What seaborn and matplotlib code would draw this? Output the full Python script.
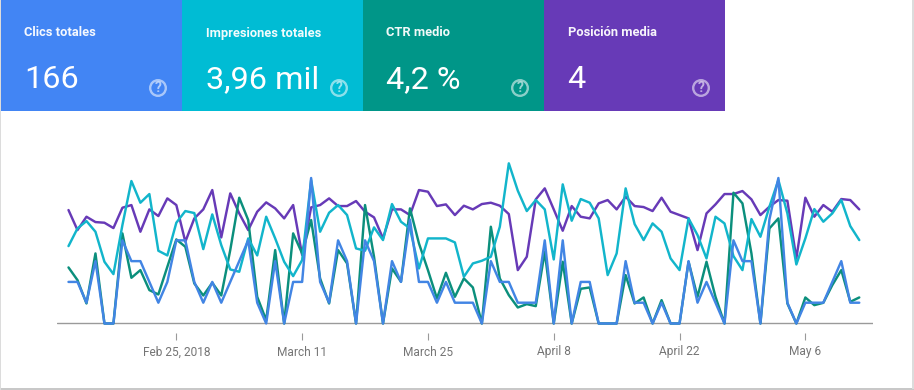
import pandas as pd
import seaborn as sns
import numpy as np
import matplotlib.pyplot as plt
from matplotlib.patches import Rectangle, Circle

start = '2018-02-13'
tick_dates = ['2018-02-25', '2018-03-11', '2018-03-25', '2018-04-08', '2018-04-22', '2018-05-06']
tick_labels = ['Feb 25, 2018', 'March 11', 'March 25', 'April 8', 'April 22', 'May 6']

card_titles = ['Clics totales', 'Impresiones totales', 'CTR medio', 'Posición media']
card_values = ['166', '3,96 mil', '4,2 %', '4']
card_colors = ['#4285F4', '#00BCD4', '#009688', '#673AB7']

clicks = [2, 2, 1, 3, 0, 0, 4, 3, 3, 2, 1, 2, 4, 4, 2, 1, 2, 1, 2, 3, 4, 1, 0, 3, 0, 2, 2, 7, 2, 1,
          4, 3, 0, 4, 3, 0, 3, 2, 5, 2, 2, 1, 2, 1, 1, 1, 0, 3, 2, 2, 1, 1, 1, 4, 0, 4, 0, 2, 2, 0,
          0, 0, 3, 1, 1, 0, 1, 0, 0, 3, 1, 2, 1, 0, 4, 3, 3, 0, 5, 7, 1, 0, 1, 1, 1, 2, 3, 1, 1]
impressions = [232, 285, 307, 275, 185, 148, 295, 427, 362, 388, 218, 204, 302, 337, 331, 223, 327, 235, 162, 155, 255, 204, 320, 255, 185, 142, 190, 430, 275, 332,
               355, 325, 225, 218, 288, 250, 358, 305, 285, 165, 255, 255, 255, 243, 140, 180, 188, 200, 290, 480, 398, 337, 370, 342, 192, 417, 308, 373, 362, 315,
               145, 210, 405, 298, 250, 300, 275, 195, 160, 315, 265, 195, 320, 300, 202, 160, 313, 260, 350, 430, 330, 177, 255, 343, 305, 330, 370, 292, 250]
ctr = [168, 130, 60, 210, 0, 0, 270, 137, 160, 100, 87, 170, 252, 230, 120, 84, 122, 84, 220, 377, 310, 80, 10, 220, 0, 270, 210, 310, 135, 60,
       220, 180, 0, 355, 200, 0, 165, 125, 345, 240, 160, 75, 152, 80, 135, 108, 0, 290, 135, 85, 48, 58, 52, 215, 0, 185, 0, 104, 108, 0,
       0, 0, 145, 60, 78, 0, 70, 0, 0, 185, 80, 185, 80, 0, 392, 360, 210, 0, 285, 315, 60, 0, 78, 55, 62, 115, 160, 65, 78]
position = [340, 280, 320, 304, 302, 286, 347, 355, 275, 342, 322, 375, 355, 245, 315, 342, 400, 258, 390, 330, 280, 335, 363, 345, 315, 355, 205, 348, 355, 375,
            352, 352, 367, 335, 318, 255, 342, 342, 325, 400, 395, 352, 357, 325, 353, 342, 358, 362, 353, 328, 160, 200, 372, 405, 342, 278, 352, 320, 315, 360,
            370, 342, 380, 352, 349, 337, 377, 335, 325, 315, 220, 330, 357, 388, 388, 397, 372, 325, 350, 370, 368, 195, 377, 320, 355, 335, 373, 370, 342]

sns.set_theme(style='white')
plt.rcParams['font.family'] = ['Roboto', 'DejaVu Sans']

W, H = 914, 390
fig = plt.figure(figsize=(W / 100, H / 100), dpi=100, facecolor='white')

# pixel overlay for the cards
bg = fig.add_axes([0, 0, 1, 1], zorder=0)
bg.set_xlim(0, W)
bg.set_ylim(H, 0)
bg.axis('off')
bg.add_patch(Rectangle((0, 388), W, 1.5, color='#c8c8c8', lw=0))
bg.add_patch(Rectangle((912, 0), 1.5, 389, color='#dcdcdc', lw=0))
bg.add_patch(Rectangle((0, 0), 1, H, color='#dcdcdc', lw=0))

for i in range(4):
    x0 = 1 + 181 * i
    bg.add_patch(Rectangle((x0, 0), 181, 111, color=card_colors[i], lw=0))
    bg.text(x0 + 23.5, 33, card_titles[i], color='white', fontsize=9.3, fontweight='bold', va='center', alpha=0.95)
    bg.text(x0 + 23.5, 80, card_values[i], color='white', fontsize=23.3, va='center')
    bg.add_patch(Circle((x0 + 157, 88), 7.8, fill=False, ec=(1, 1, 1, 0.55), lw=1.7))
    bg.text(x0 + 157, 88.3, '?', color=(1, 1, 1, 0.6), fontsize=10, fontweight='bold', ha='center', va='center')

dates = pd.date_range(start, periods=len(clicks))
click_step = 62.3
df = pd.DataFrame({
    'date': dates,
    'Posición': position,
    'CTR': ctr,
    'Impresiones': impressions,
    'Clics': np.array(clicks) * click_step,
}).melt(id_vars='date', var_name='metric', value_name='value')

# axes spans px 57..873, bottom edge sits under the baseline so ticks float
ax = fig.add_axes([57 / W, 1 - 333 / H, 816 / W, (333 - 150) / H], zorder=1)
ax.patch.set_alpha(0)
sns.lineplot(data=df, x='date', y='value', hue='metric',
             hue_order=['Posición', 'CTR', 'Impresiones', 'Clics'],
             palette=['#673AB7', '#0B8F7C', '#12B5CB', '#4285E4'],
             linewidth=1.75, legend=False, ax=ax, clip_on=False)

px_day = 8.986
ax.set_xlim(dates[0] - pd.Timedelta(days=11.5 / px_day), dates[0] + pd.Timedelta(days=804.5 / px_day))
ax.set_ylim(-28.5, 520)
ax.axhline(0, color='#9a9a9a', lw=1, zorder=0)
sns.despine(ax=ax, left=True, bottom=True)
ax.set_yticks([])
ax.set_xlabel('')
ax.set_ylabel('')
ax.set_xticks(pd.to_datetime(tick_dates))
ax.set_xticklabels(tick_labels, color='#757575', fontsize=8.6)
ax.tick_params(axis='x', bottom=True, length=5, width=0.8, color='#9a9a9a', pad=4)

fig.savefig('out.png', dpi=100)
